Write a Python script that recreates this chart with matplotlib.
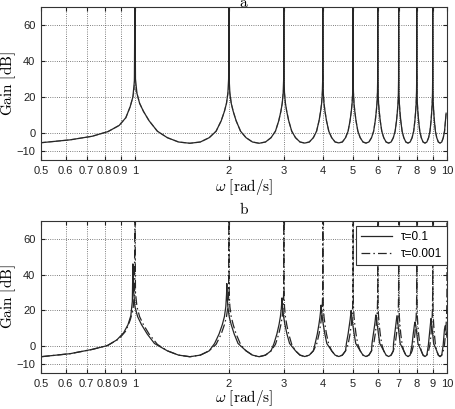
import numpy as np
import matplotlib
matplotlib.use("Agg")
import matplotlib.pyplot as plt
from matplotlib.ticker import FixedLocator, NullLocator

plt.rcParams['font.family'] = ['Liberation Sans', 'DejaVu Sans']
plt.rcParams['mathtext.fontset'] = 'cm'

# frequency grid (rad/s), resonances at the integers
omega = [0.5, 0.62, 0.73, 0.82, 0.89, 0.935, 0.965, 0.985, 0.996,
         1.0, 1.004, 1.015, 1.035, 1.065, 1.11, 1.18, 1.27, 1.38,
         1.5, 1.62, 1.73, 1.82, 1.89, 1.935, 1.965, 1.985, 1.996,
         2.0, 2.004, 2.015, 2.035, 2.065, 2.11, 2.18, 2.27, 2.38,
         2.5, 2.62, 2.73, 2.82, 2.89, 2.935, 2.965, 2.985, 2.996,
         3.0, 3.004, 3.015, 3.035, 3.065, 3.11, 3.18, 3.27, 3.38,
         3.5, 3.62, 3.73, 3.82, 3.89, 3.935, 3.965, 3.985, 3.996,
         4.0, 4.004, 4.015, 4.035, 4.065, 4.11, 4.18, 4.27, 4.38,
         4.5, 4.62, 4.73, 4.82, 4.89, 4.935, 4.965, 4.985, 4.996,
         5.0, 5.004, 5.015, 5.035, 5.065, 5.11, 5.18, 5.27, 5.38,
         5.5, 5.62, 5.73, 5.82, 5.89, 5.935, 5.965, 5.985, 5.996,
         6.0, 6.004, 6.015, 6.035, 6.065, 6.11, 6.18, 6.27, 6.38,
         6.5, 6.62, 6.73, 6.82, 6.89, 6.935, 6.965, 6.985, 6.996,
         7.0, 7.004, 7.015, 7.035, 7.065, 7.11, 7.18, 7.27, 7.38,
         7.5, 7.62, 7.73, 7.82, 7.89, 7.935, 7.965, 7.985, 7.996,
         8.0, 8.004, 8.015, 8.035, 8.065, 8.11, 8.18, 8.27, 8.38,
         8.5, 8.62, 8.73, 8.82, 8.89, 8.935, 8.965, 8.985, 8.996,
         9.0, 9.004, 9.015, 9.035, 9.065, 9.11, 9.18, 9.27, 9.38,
         9.5, 9.62, 9.73, 9.82, 9.89, 9.935, 9.965, 9.985, 9.996,
         10.0]

# panel a: exact response (solid), dB
gain_a_exact = [-5.4, -3.8, -1.8, 0.8, 4.2, 8.5, 14.5, 20, 29,
                80, 30, 22, 16.5, 12, 6.8, 1.0, -2.6, -5.0,
                -5.7, -5.0, -2.6, 1.0, 6.8, 12, 16.5, 22, 30,
                80, 30, 22, 16.5, 12, 6.8, 1.0, -2.6, -5.0,
                -5.7, -5.0, -2.6, 1.0, 6.8, 12, 16.5, 22, 30,
                80, 30, 22, 16.5, 12, 6.8, 1.0, -2.6, -5.0,
                -5.6, -5.0, -2.6, 1.0, 6.8, 12, 16.5, 22, 30,
                80, 30, 22, 16.5, 12, 6.8, 1.0, -2.6, -5.0,
                -5.5, -5.0, -2.6, 1.0, 6.8, 12, 16.5, 22, 30,
                80, 30, 22, 16.5, 12, 6.8, 1.0, -2.6, -5.0,
                -5.6, -5.0, -2.6, 1.0, 6.8, 12, 16.5, 22, 30,
                80, 30, 22, 16.5, 12, 6.8, 1.0, -2.6, -5.0,
                -5.6, -5.0, -2.6, 1.0, 6.8, 12, 16.5, 22, 30,
                80, 30, 22, 16.5, 12, 6.8, 1.0, -2.6, -5.0,
                -5.6, -5.0, -2.6, 1.0, 6.8, 12, 16.5, 22, 30,
                80, 30, 22, 16.5, 12, 6.8, 1.0, -2.6, -5.0,
                -5.6, -5.0, -2.6, 1.0, 6.8, 12, 16.5, 22, 30,
                80, 30, 22, 16.5, 12, 6.8, 1.0, -2.6, -5.0,
                -5.6, -5.0, -2.6, 1.0, 6.8, 11]

# panel a: approximation (dashed), dB
gain_a_approx = [-5.4, -3.8, -1.8, 0.8, 4.2, 8.5, 14.5, 20, 24,
                 41, 24, 22, 16.5, 12, 6.8, 1.0, -2.6, -5.0,
                 -5.7, -5.0, -2.6, 1.0, 6.8, 12, 16.5, 22, 24,
                 30, 24, 22, 16.5, 12, 6.8, 1.0, -2.6, -5.0,
                 -5.7, -5.0, -2.6, 1.0, 6.8, 12, 16.5, 22, 24,
                 27, 24, 22, 16.5, 12, 6.8, 1.0, -2.6, -5.0,
                 -5.6, -5.0, -2.6, 1.0, 6.8, 12, 16.5, 22, 24,
                 33, 24, 22, 16.5, 12, 6.8, 1.0, -2.6, -5.0,
                 -5.5, -5.0, -2.6, 1.0, 6.8, 12, 16.5, 22, 24,
                 27, 24, 22, 16.5, 12, 6.8, 1.0, -2.6, -5.0,
                 -5.6, -5.0, -2.6, 1.0, 6.8, 12, 16.5, 22, 24,
                 28, 24, 22, 16.5, 12, 6.8, 1.0, -2.6, -5.0,
                 -5.6, -5.0, -2.6, 1.0, 6.8, 12, 16.5, 19, 19.5,
                 20, 19.5, 19, 16.5, 12, 6.8, 1.0, -2.6, -5.0,
                 -5.6, -5.0, -2.6, 1.0, 6.8, 12, 16.5, 22, 24,
                 33, 24, 22, 16.5, 12, 6.8, 1.0, -2.6, -5.0,
                 -5.6, -5.0, -2.6, 1.0, 6.8, 12, 16.5, 21, 22,
                 23, 22, 21, 16.5, 12, 6.8, 1.0, -2.6, -5.0,
                 -5.6, -5.0, -2.6, 1.0, 6.8, 11]

# panel b: tau = 0.001 (dash-dot), dB
gain_b_small = [-5.9, -4.2, -1.8, 0.5, 4.2, 8.5, 14.5, 20, 29,
                80, 30, 22, 16.5, 12, 6.8, 1.0, -2.6, -5.0,
                -5.9, -5.0, -2.6, 1.0, 6.8, 12, 16.5, 22, 30,
                80, 30, 22, 16.5, 12, 6.8, 1.0, -2.6, -5.0,
                -5.9, -5.0, -2.6, 1.0, 6.8, 12, 16.5, 22, 30,
                80, 30, 22, 16.5, 12, 6.8, 1.0, -2.6, -5.0,
                -5.8, -5.0, -2.6, 1.0, 6.8, 12, 16.5, 22, 30,
                80, 30, 22, 16.5, 12, 6.8, 1.0, -2.6, -5.0,
                -5.8, -5.0, -2.6, 1.0, 6.8, 12, 16.5, 22, 30,
                80, 30, 22, 16.5, 12, 6.8, 1.0, -2.6, -5.0,
                -5.8, -5.0, -2.6, 1.0, 6.8, 12, 16.5, 22, 30,
                80, 30, 22, 16.5, 12, 6.8, 1.0, -2.6, -5.0,
                -5.8, -5.0, -2.6, 1.0, 6.8, 12, 16.5, 22, 30,
                80, 30, 22, 16.5, 12, 6.8, 1.0, -2.6, -5.0,
                -5.8, -5.0, -2.6, 1.0, 6.8, 12, 16.5, 22, 30,
                80, 30, 22, 16.5, 12, 6.8, 1.0, -2.6, -5.0,
                -5.8, -5.0, -2.6, 1.0, 6.8, 12, 16.5, 22, 30,
                80, 30, 22, 16.5, 12, 6.8, 1.0, -2.6, -5.0,
                -5.8, -5.0, -2.6, 1.0, 6.8, 12, 16.5, 22, 30,
                80]

# panel b: tau = 0.1 (solid), resonances a little below the integers
omega_b = [0.5, 0.62, 0.73, 0.815, 0.875, 0.92, 0.95, 0.97, 0.981,
           0.985, 0.989, 1.0, 1.02, 1.05, 1.095, 1.155, 1.27, 1.38,
           1.5, 1.62, 1.73, 1.8, 1.86, 1.905, 1.935, 1.955, 1.966,
           1.97, 1.974, 1.985, 2.005, 2.035, 2.08, 2.14, 2.27, 2.38,
           2.5, 2.62, 2.73, 2.79, 2.85, 2.895, 2.925, 2.945, 2.956,
           2.96, 2.964, 2.975, 2.995, 3.025, 3.07, 3.13, 3.27, 3.38,
           3.5, 3.62, 3.73, 3.78, 3.84, 3.885, 3.915, 3.935, 3.946,
           3.95, 3.954, 3.965, 3.985, 4.015, 4.06, 4.12, 4.27, 4.38,
           4.5, 4.62, 4.73, 4.76, 4.82, 4.865, 4.895, 4.915, 4.926,
           4.93, 4.934, 4.945, 4.965, 4.995, 5.04, 5.1, 5.27, 5.38,
           5.5, 5.62, 5.73, 5.75, 5.81, 5.855, 5.885, 5.905, 5.916,
           5.92, 5.924, 5.935, 5.955, 5.985, 6.03, 6.09, 6.27, 6.38,
           6.5, 6.62, 6.73, 6.74, 6.8, 6.845, 6.875, 6.895, 6.906,
           6.91, 6.914, 6.925, 6.945, 6.975, 7.02, 7.08, 7.27, 7.38,
           7.5, 7.62, 7.73, 7.79, 7.835, 7.865, 7.885, 7.896,
           7.9, 7.904, 7.915, 7.935, 7.965, 8.01, 8.07, 8.27, 8.38,
           8.5, 8.62, 8.72, 8.78, 8.825, 8.855, 8.875, 8.886,
           8.89, 8.894, 8.905, 8.925, 8.955, 9.0, 9.06, 9.27, 9.38,
           9.5, 9.62, 9.72, 9.77, 9.815, 9.845, 9.865, 9.876,
           9.88, 9.9, 10.0]

gain_b_large = [-5.9, -4.2, -1.8, 0.3, 3.5, 7.5, 12, 17, 25,
                46, 32, 22, 16.5, 12, 6.8, 1.5, -2.6, -5.0,
                -5.9, -5.0, -2.6, 1.5, 6.8, 12, 16.5, 22, 29,
                35, 29, 22, 16.5, 12, 6.8, 1.5, -2.6, -5.0,
                -5.9, -5.0, -2.6, 1.5, 6.8, 12, 16.5, 21, 25,
                27, 25, 21, 16.5, 12, 6.8, 1.5, -2.6, -5.0,
                -5.8, -5.0, -2.6, 1.5, 6.8, 12, 16, 19.5, 22,
                23, 22, 19.5, 16, 12, 6.8, 1.5, -2.6, -5.0,
                -5.8, -5.0, -2.6, 1.5, 6.8, 11.5, 15, 18, 19.5,
                20, 19.5, 18, 15, 11.5, 6.8, 1.5, -2.6, -5.0,
                -5.8, -5.0, -2.6, 1.5, 6.8, 11, 14, 16.5, 17.2,
                17.5, 17.2, 16.5, 14, 11, 6.8, 1.5, -2.6, -5.0,
                -5.8, -5.0, -2.6, 1.5, 6.8, 11, 14, 16, 16.7,
                17, 16.7, 16, 14, 11, 6.8, 1.5, -2.6, -5.0,
                -5.8, -5.0, 1.0, 6.5, 10, 12, 13, 13.3,
                13.5, 13.3, 13, 12, 10, 6.5, 1.5, -2.6, -5.0,
                -5.8, -5.0, 1.0, 6.5, 10.5, 13, 14.5, 15.2,
                15.5, 15.2, 14.5, 13, 10.5, 6.5, 1.5, -2.6, -5.0,
                -5.8, -5.0, 0.5, 5.5, 9.5, 10.5, 11.2, 11.4,
                11.5, 10, 5]

xticks = [0.5, 0.6, 0.7, 0.8, 0.9, 1, 2, 3, 4, 5, 6, 7, 8, 9, 10]
xticklabels = ['0.5', '0.6', '0.7', '0.8', '0.9', '1', '2', '3', '4', '5',
               '6', '7', '8', '9', '10']
yticks = [-10, 0, 20, 40, 60]

line_col = '#262626'

fig = plt.figure(figsize=(4.55, 4.09), dpi=100)
ax1 = fig.add_axes([41 / 455, 1 - 160 / 409, 406 / 455, 153 / 409])
ax2 = fig.add_axes([41 / 455, 1 - 373 / 409, 406 / 455, 152 / 409])

ax1.plot(omega[:len(gain_a_approx)], gain_a_approx, color='#7a7a7a', lw=0.9,
         ls='--', dashes=(4, 2))
ax1.plot(omega[:len(gain_a_exact)], gain_a_exact, color=line_col, lw=0.9)

ax2.plot(omega_b, gain_b_large, color=line_col, lw=0.9, label='τ=0.1')
ax2.plot(omega, gain_b_small, color=line_col, lw=0.9, ls='-.',
         dashes=(7, 2.5, 1.2, 2.5), label='τ=0.001')

for ax, title, xl_y, tpad in [(ax1, 'a', -0.11, 0), (ax2, 'b', -0.1, 5)]:
    ax.set_xscale('log')
    ax.set_xlim(0.5, 10)
    ax.set_ylim(-15, 70)
    ax.xaxis.set_major_locator(FixedLocator(xticks))
    ax.xaxis.set_minor_locator(NullLocator())
    ax.set_xticklabels(xticklabels)
    ax.set_yticks(yticks)
    ax.tick_params(direction='in', top=True, right=True, length=3,
                   labelsize=8, pad=4, colors='#222222')
    ax.grid(True, ls=':', color='#555555', lw=0.6)
    for s in ax.spines.values():
        s.set_linewidth(0.8)
        s.set_color('#333333')
    ax.set_xlabel(r'$\omega\ \mathrm{[rad/s]}$', fontsize=11)
    ax.xaxis.set_label_coords(0.5, xl_y)
    ax.set_ylabel(r'$\mathrm{Gain\ [dB]}$', fontsize=11)
    ax.yaxis.set_label_coords(-0.056, 0.5)
    ax.set_title(r'$\mathrm{' + title + '}$', fontsize=11, pad=tpad)

leg = ax2.legend(loc='upper right', bbox_to_anchor=(1.0, 1 - 5 / 152),
                 fontsize=8.5, handlelength=2.6, fancybox=False,
                 framealpha=1, edgecolor='#333333', borderaxespad=0,
                 labelspacing=0.45)
leg.get_frame().set_linewidth(0.8)

fig.savefig('out.png', dpi=100)
